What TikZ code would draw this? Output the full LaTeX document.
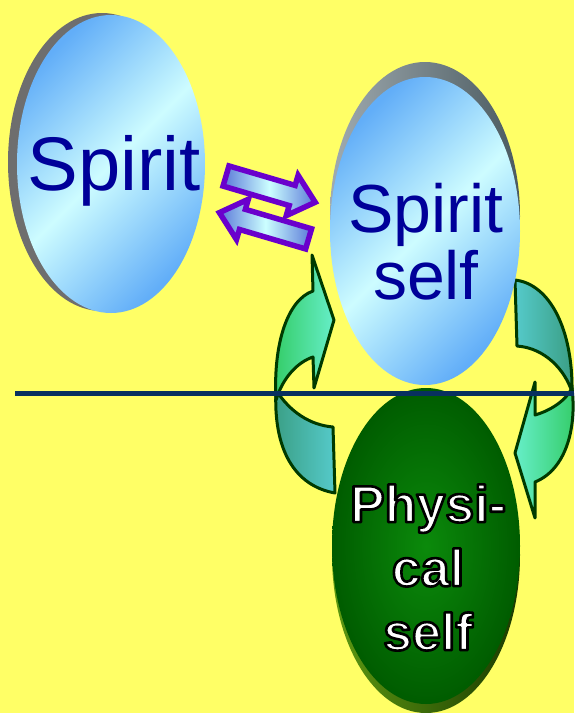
\documentclass[tikz,border=0pt]{standalone}
\usepackage{fontspec}
\setmainfont{Liberation Sans}
\usetikzlibrary{shapes.geometric}
\definecolor{bgyellow}{HTML}{FFFF66}
\definecolor{spiritblue}{HTML}{000099}
\definecolor{navyline}{HTML}{08305F}
\definecolor{rimgreen}{HTML}{003A00}
\definecolor{swapviolet}{HTML}{6A00CC}
\definecolor{swapblue}{HTML}{5A78D8}
\definecolor{swapcyan}{HTML}{CCFFFF}
\definecolor{faceblue}{HTML}{62AEF8}
\definecolor{facecyan}{HTML}{CDFCFF}
\definecolor{greenlight}{HTML}{66EEC8}
\definecolor{greendark}{HTML}{33CC66}
\definecolor{teallight}{HTML}{55CACA}
\definecolor{tealdark}{HTML}{3A9E84}
\definecolor{rimgray}{HTML}{6E6E6E}
\definecolor{rimlight}{HTML}{A0ABB0}
\definecolor{rimdark}{HTML}{4A5A60}
\definecolor{physinner}{HTML}{0B8A0B}
\definecolor{physouter}{HTML}{005C00}
\definecolor{physrimlight}{HTML}{5E9A12}
\definecolor{physrimdark}{HTML}{1A3A00}
% white letters with a dark outline
\newcommand\outlined[1]{\special{pdf:literal direct 2 Tr 2.6 w 1 j 0 0 0 RG}#1\special{pdf:literal direct 0 Tr}}

\begin{document}
\begin{tikzpicture}[x=1pt,y=-1pt,
  oval/.style={ellipse,inner sep=0pt,minimum width=#1},
  blueface/.style={oval=#1,top color=faceblue,bottom color=faceblue,middle color=facecyan,shading angle=45},
  lbl/.style={text=spiritblue,inner sep=0pt},
  physlbl/.style={inner sep=0pt,align=center,text=white,font=\bfseries\fontsize{52}{64}\selectfont},
  bendarrow/.style={draw=rimgreen,line width=3pt,line join=round},
  swaparrow/.style={draw=swapviolet,line width=5.5pt,left color=swapblue,right color=swapblue,middle color=swapcyan}]
\fill[bgyellow] (0,0) rectangle (574,713);
\useasboundingbox (0,0) rectangle (574,713);

% cycle arrows, left
\path[bendarrow,left color=tealdark,right color=teallight] (276,390) .. controls (290,412) and (310,425) .. (333,427) -- (335,493) .. controls (295,486) and (273,450) .. (276,390) -- cycle;
\path[bendarrow,left color=greendark,right color=greenlight] (276,400) .. controls (273,345) and (287,300) .. (313,291) -- (312,255) -- (334,320) -- (314,388) -- (313,357) .. controls (298,362) and (283,377) .. (276,400) -- cycle;
% cycle arrows, right
\path[bendarrow,left color=teallight,right color=tealdark] (515,280) .. controls (550,284) and (573,330) .. (572,392) .. controls (565,370) and (545,348) .. (517,346) -- cycle;
\path[bendarrow,left color=greenlight,right color=greendark] (572,388) .. controls (577,430) and (565,470) .. (535,482) -- (535,518) -- (515,453) -- (535,382) -- (535,415) .. controls (552,410) and (566,400) .. (572,388) -- cycle;

% ovals
\node[oval=188,minimum height=298,fill=rimgray] (spiritrim) at (102,162) {};
\node[blueface=188,minimum height=298] (spirit) at (111,164) {};
\node[oval=190,minimum height=308,left color=rimlight,right color=rimdark] (selfrim) at (425,216) {};
\node[blueface=190,minimum height=308] (spiritself) at (425,231) {};
\node[oval=188,minimum height=316,left color=physrimlight,right color=physrimdark] (physrim) at (426,555) {};
\node[oval=188,minimum height=316,inner color=physinner,outer color=physouter] (physical) at (426,546) {};

\node[lbl,font=\fontsize{76}{76}\selectfont,anchor=base] (spiritlbl) at (114,190) {Spirit};
\node[lbl,font=\fontsize{68}{67}\selectfont,align=center] (selflbl) at (426,241.5) {Spirit\\self};
\node[physlbl] (physlbl) at (428,567.5) {\outlined{Physi-}\\\outlined{cal}\\\outlined{self}};

% swap arrows
\begin{scope}[shift={(226,176)},rotate=-16.4]
\draw[swaparrow] (0,-10.5) -- (69,-10.5) -- (69,-21) -- (93,0) -- (69,21) -- (69,10.5) -- (0,10.5) -- cycle;
\draw[swaparrow] (97,26.5) -- (28,26.5) -- (28,16) -- (4,37) -- (28,58) -- (28,47.5) -- (97,47.5) -- cycle;
\end{scope}

% divider
\coordinate (divl) at (15,393);
\coordinate (divr) at (574,393);
\draw[navyline,line width=5pt] (divl) -- (divr);
\end{tikzpicture}
\end{document}
